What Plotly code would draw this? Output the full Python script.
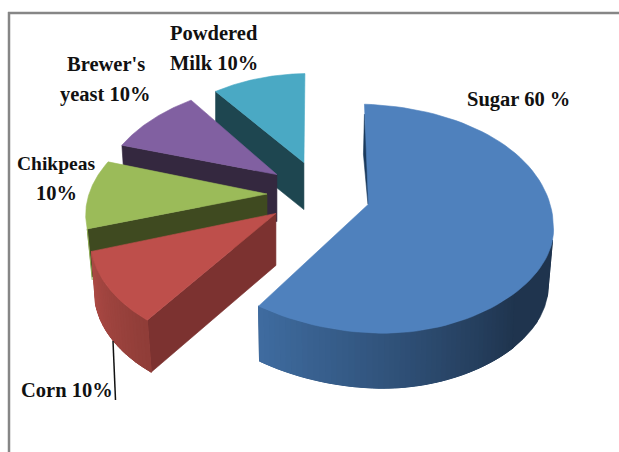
import numpy as np
import plotly.graph_objects as go

# ---- data ----
categories = ["Sugar", "Corn", "Chikpeas", "Brewer's yeast", "Powdered Milk"]
values = [60, 10, 10, 10, 10]
label_lines = [["Sugar 60 %"], ["Corn 10%"], ["Chikpeas", "10%"], ["Brewer's", "yeast 10%"], ["Powdered", "Milk 10%"]]

# ---- styles / geometry of the 3-D look (pixel-like axes) ----
W, H = 619, 452
CENTER = (319, 194)
PULL = (52, 33)
top_colors = ["#4F81BD", "#BE4F4B", "#9BBB59", "#8160A1", "#4AA9C4"]
face_colors = ["#1B3A5C", "#7C3230", "#3F4A20", "#34283F", "#1E4650"]
# knots over the slice's own sweep (0..1): rx, ry, and small rim offsets that skew the ellipse
radius_knots = [
    ([0, 0.4167, 0.833, 1], [185, 185, 185, 187], [100, 112, 129, 126], [-4, 0, 10, 0], [0, 22, 0, 0]),
    ([0, 1], [219, 194], [132, 123], [0, 0], [0, 0]),
    ([0, 1], [189, 167], [113, 104], [0, 0], [0, 0]),
    ([0, 1], [163, 146], [95, 92], [0, 0], [0, 0]),
    ([0, 1], [152, 150], [88, 89], [1, 1], [0, 0]),
]
apex_nudge = [0, -1, 0, 0, 1]
depths = [55, 52, 48, 47, 47]
label_pos = {
    "Sugar 60 %": (518, 99), "Corn 10%": (67, 390), "Chikpeas": (56, 163), "10%": (56, 193),
    "Brewer's": (106, 64), "yeast 10%": (105, 94), "Powdered": (214, 33), "Milk 10%": (214, 63),
}
label_size = {"Chikpeas": 19.5}


def lerp_color(c0, c1, t):
    a = np.array([int(c0[i:i + 2], 16) for i in (1, 3, 5)], float)
    b = np.array([int(c1[i:i + 2], 16) for i in (1, 3, 5)], float)
    r = a + (b - a) * t
    return "rgb(%d,%d,%d)" % tuple(r.round())


fig = go.Figure()


def poly(xs, ys, color, lw=0.6):
    fig.add_trace(go.Scatter(x=list(xs), y=list(ys), mode="lines", fill="toself", fillcolor=color,
                             line=dict(color=color, width=lw), hoverinfo="skip", showlegend=False))


fractions = np.array(values, float) / np.sum(values)
edges = np.concatenate([[0], np.cumsum(fractions)]) * 2 * np.pi
slices = []
for i in range(len(values)):
    a0, a1 = edges[i], edges[i + 1]
    mid = (a0 + a1) / 2
    ax = CENTER[0] + PULL[0] * np.sin(mid) + apex_nudge[i]
    ay = CENTER[1] - PULL[1] * np.cos(mid)
    fr, rxk, ryk, dxk, dyk = radius_knots[i]

    def outer(th, a0=a0, a1=a1, ax=ax, ay=ay, fr=fr, rxk=rxk, ryk=ryk, dxk=dxk, dyk=dyk):
        t = (th - a0) / (a1 - a0)
        return (ax + np.interp(t, fr, dxk) + np.interp(t, fr, rxk) * np.sin(th),
                ay + np.interp(t, fr, dyk) - np.interp(t, fr, ryk) * np.cos(th))

    slices.append((a0, a1, ax, ay, outer))


def top(i):
    a0, a1, ax, ay, outer = slices[i]
    th = np.linspace(a0, a1, 90)
    x, y = outer(th)
    poly(np.r_[ax, x, ax], np.r_[ay, y, ay], top_colors[i])


def cut_face(i, shift=0):
    a0, a1, ax, ay, outer = slices[i]
    px, py = outer(np.array(a0))
    d = depths[i]
    poly([px, ax, ax, px + shift, px], [py, ay, ay + d, py + d, py], face_colors[i])


def rim(i, th0, th1, c0, c1, shift0, shift1, n=40):
    a0, a1, ax, ay, outer = slices[i]
    ths = np.linspace(th0, th1, n + 1)
    d = depths[i]
    # underlay so that no background shows through the joints
    tt = np.linspace(th0, th1, 60)
    x, y = outer(tt)
    sh = shift0 + (shift1 - shift0) * (tt - th0) / (th1 - th0)
    poly(np.r_[x, (x + sh)[::-1], x[0]], np.r_[y, (y + d)[::-1], y[0]], lerp_color(c0, c1, 0.5))
    for k in range(n):
        tt = np.linspace(ths[k], ths[k + 1], 3)
        x, y = outer(tt)
        sh = shift0 + (shift1 - shift0) * (tt - th0) / (th1 - th0)
        poly(np.r_[x, (x + sh)[::-1], x[0]], np.r_[y, (y + d)[::-1], y[0]], lerp_color(c0, c1, (k + 0.5) / n), lw=1)


# back to front
cut_face(4)
top(4)
cut_face(3, 3)
top(3)
cut_face(2, 5)
top(2)
# light edge of the chickpea rim
a0, a1, ax, ay, outer = slices[2]
gx, gy = outer(np.array(a0))
fig.add_trace(go.Scatter(x=[gx, gx + 5], y=[gy, gy + depths[2] + 3], mode="lines",
                         line=dict(color="#8FAD52", width=1), hoverinfo="skip", showlegend=False))
cut_face(1, 4)
rim(1, slices[1][1], slices[1][0], "#AD4A45", "#8F3D38", 4, 4, n=24)
top(1)
# thin inner face of the sugar slice
a0, a1, ax, ay, outer = slices[0]
sx, sy = outer(np.array(a0))
poly([sx, sx - 1, ax - 0.5, ax + 3, sx], [sy + 10, sy + 50, ay, ay, sy + 10], "#1B3A5C")
rim(0, np.radians(130), np.radians(216), "#1F344E", "#3F6CA0", -2, 1, n=50)
rim(0, np.radians(98), np.radians(130), "#1F344E", "#1F344E", -5, -2, n=1)
top(0)

# leader line of the Corn label
fig.add_trace(go.Scatter(x=[113, 115.5], y=[341, 400], mode="lines", line=dict(color="#111111", width=1.5),
                         hoverinfo="skip", showlegend=False))

annotations = []
for lines in label_lines:
    for line in lines:
        px, py = label_pos[line]
        annotations.append(dict(x=px, y=py, xref="x", yref="y", text="<b>" + line + "</b>", showarrow=False,
                                xanchor="center", yanchor="middle",
                                font=dict(family="Liberation Serif", size=label_size.get(line, 20.5), color="#111111")))

fig.update_layout(
    width=W, height=H, margin=dict(l=0, r=0, t=0, b=0), paper_bgcolor="white", plot_bgcolor="white",
    xaxis=dict(range=[0, W], visible=False, fixedrange=True),
    yaxis=dict(range=[H, 0], visible=False, fixedrange=True),
    showlegend=False, annotations=annotations,
    shapes=[
        dict(type="line", x0=8, x1=W, y0=13, y1=13, line=dict(color="#868686", width=2.5)),
        dict(type="line", x0=9, x1=9, y0=12, y1=H, line=dict(color="#868686", width=2.5)),
    ],
)
fig.write_html("out.html", config={"displayModeBar": False},
               post_script="document.body.style.margin='0';document.documentElement.style.overflow='hidden';")
